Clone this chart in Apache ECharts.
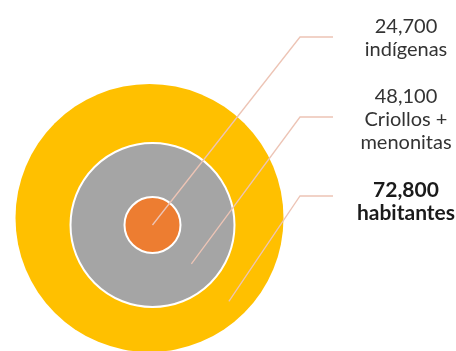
<!DOCTYPE html>
<html>
<head>
<meta charset="utf-8">
<script src="https://cdn.jsdelivr.net/npm/echarts@6/dist/echarts.min.js"></script>
<style>
  html, body { margin: 0; padding: 0; background: #ffffff; }
  #chart { width: 456px; height: 351px; }
</style>
</head>
<body>
<div id="chart"></div>
<script>
// Population groups, innermost circle first
const groups = ['indígenas', 'Criollos +\nmenonitas', 'habitantes'];
const population = [24700, 48100, 72800];

// Styling for the nested circles
const circleColors = ['#ED7D31', '#A5A5A5', '#FFC000'];
const circleRadii = [28, 82, 134];
const circleBorders = [2, 2, 0];
const boldLabel = [false, false, true];

// Layout of the callouts on the right
const rings = { cx: 152.5, cy: 225 };
const outerCenter = [149.5, 218];
const elbowX = 300;
const lineEndX = 333;
const elbowY = [37, 117, 196];
const labelX = 406;
const labelY = [38, 120, 202];
const leaderColor = '#EDC4B5';

const fmt = v => v.toLocaleString('en-US');

// Leader lines start halfway through each ring, on the 45° diagonal
function anchor(i) {
  const r = i === 0 ? 0 : (circleRadii[i - 1] + circleRadii[i]) / 2;
  const a = Math.PI / 4;
  return [rings.cx + r * Math.cos(a), rings.cy + r * Math.sin(a)];
}

const series = [];

// Filled circles, largest drawn first
for (let i = groups.length - 1; i >= 0; i--) {
  series.push({
    type: 'pie',
    silent: true,
    animation: false,
    center: i === groups.length - 1 ? outerCenter : [rings.cx, rings.cy],
    radius: [0, circleRadii[i]],
    startAngle: 90,
    z: 2 + (groups.length - i),
    itemStyle: {
      color: circleColors[i],
      borderColor: '#ffffff',
      borderWidth: circleBorders[i]
    },
    label: { show: false },
    labelLine: { show: false },
    data: [{ name: groups[i], value: population[i] }]
  });
}

// Callouts: an invisible pie per group carries the label and its leader line above all circles
for (let i = 0; i < groups.length; i++) {
  series.push({
    type: 'pie',
    silent: true,
    animation: false,
    avoidLabelOverlap: false,
    center: [rings.cx, rings.cy],
    radius: [0, 1],
    z: 10,
    itemStyle: { color: 'rgba(0,0,0,0)' },
    label: {
      show: true,
      position: 'outside',
      formatter: () => fmt(population[i]) + '\n' + groups[i],
      fontFamily: 'Lato',
      fontSize: boldLabel[i] ? 21 : 20,
      lineHeight: 23,
      fontWeight: boldLabel[i] ? 'bold' : 'normal',
      color: boldLabel[i] ? '#1a1a1a' : '#333333',
      align: 'center'
    },
    labelLine: {
      show: true,
      lineStyle: { color: leaderColor, width: 1.3 }
    },
    labelLayout: () => ({
      x: labelX,
      y: labelY[i],
      align: 'center',
      verticalAlign: 'middle',
      labelLinePoints: [anchor(i), [elbowX, elbowY[i]], [lineEndX, elbowY[i]]]
    }),
    data: [{ name: groups[i], value: population[i] }]
  });
}

const chart = echarts.init(document.getElementById('chart'), null, { renderer: 'canvas' });
chart.setOption({
  backgroundColor: '#ffffff',
  animation: false,
  series: series
});
</script>
</body>
</html>
